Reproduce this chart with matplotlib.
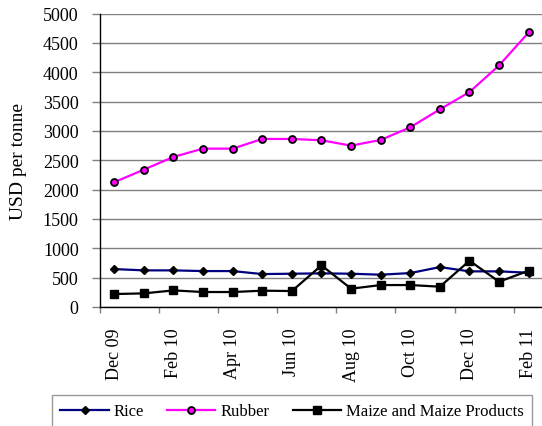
import matplotlib
matplotlib.use("Agg")
import matplotlib.pyplot as plt
from matplotlib.ticker import FixedLocator

months = ["Dec 09", "Jan 10", "Feb 10", "Mar 10", "Apr 10", "May 10", "Jun 10", "Jul 10",
          "Aug 10", "Sep 10", "Oct 10", "Nov 10", "Dec 10", "Jan 11", "Feb 11"]
rice = [646, 624, 624, 612, 612, 561, 567, 573, 567, 550, 578, 680, 607, 607, 584]
rubber = [2126, 2341, 2557, 2698, 2698, 2863, 2863, 2840, 2749, 2846, 3061, 3367, 3662, 4116, 4677]
maize = [221, 232, 283, 255, 255, 278, 272, 709, 312, 374, 374, 346, 788, 431, 618]
yticks = list(range(0, 5001, 500))

plt.rcParams['font.family'] = ['Liberation Serif', 'DejaVu Serif']

W, H = 542, 427
fig = plt.figure(figsize=(W / 100, H / 100), dpi=100)
ax = fig.add_axes([99.5 / W, (H - 308) / H, (W - 99.5) / W, (308 - 14.5) / H])

x = list(range(len(months)))
l1, = ax.plot(x, rice, color='#000080', lw=1.6, marker='D', ms=4.5,
              mfc='black', mec='black', label='Rice')
l2, = ax.plot(x, rubber, color='#ff00ff', lw=1.6, marker='o', ms=5,
              mfc='#ff00ff', mec='black', mew=1.3, label='Rubber')
l3, = ax.plot(x, maize, color='black', lw=1.6, marker='s', ms=6,
              mfc='black', mec='black', label='Maize and Maize Products')

ax.set_xlim(-0.5, 14.45)
ax.set_ylim(0, 5000)
ax.set_yticks(yticks)
ax.yaxis.grid(True, color='#808080', lw=1)
ax.set_axisbelow(True)
for s in ['top', 'right']:
    ax.spines[s].set_visible(False)
ax.spines['left'].set_linewidth(1)
ax.spines['bottom'].set_linewidth(1)

lab_idx = list(range(0, len(months), 2))
ax.xaxis.set_major_locator(FixedLocator(lab_idx))
ax.set_xticklabels([months[i] for i in lab_idx], rotation=90, fontsize=13)
ax.xaxis.set_minor_locator(FixedLocator([i - 0.5 for i in lab_idx]))
ax.tick_params(axis='x', which='major', length=0, pad=15)
ax.tick_params(axis='x', which='minor', length=4, width=1, color='#808080')
ax.tick_params(axis='y', length=6, width=1, color='#808080', labelsize=13, pad=9)

ax.set_ylabel('USD per tonne', fontsize=14, ha='center', va='center')
ax.yaxis.set_label_coords(-(99.5 - 19) / (W - 99.5), 0.5)

leg = fig.legend(handles=[l1, l2, l3], loc='upper left', ncol=3,
                 bbox_to_anchor=(52 / W, 1 - 396 / H, (532 - 52) / W, 0.0),
                 mode='expand', fontsize=12, frameon=True, fancybox=False,
                 edgecolor='#808080', handlelength=2.9, handletextpad=0.3,
                 columnspacing=1.0, borderpad=0.5, borderaxespad=0)
leg.get_frame().set_linewidth(1)

fig.savefig('out.png', dpi=100)
